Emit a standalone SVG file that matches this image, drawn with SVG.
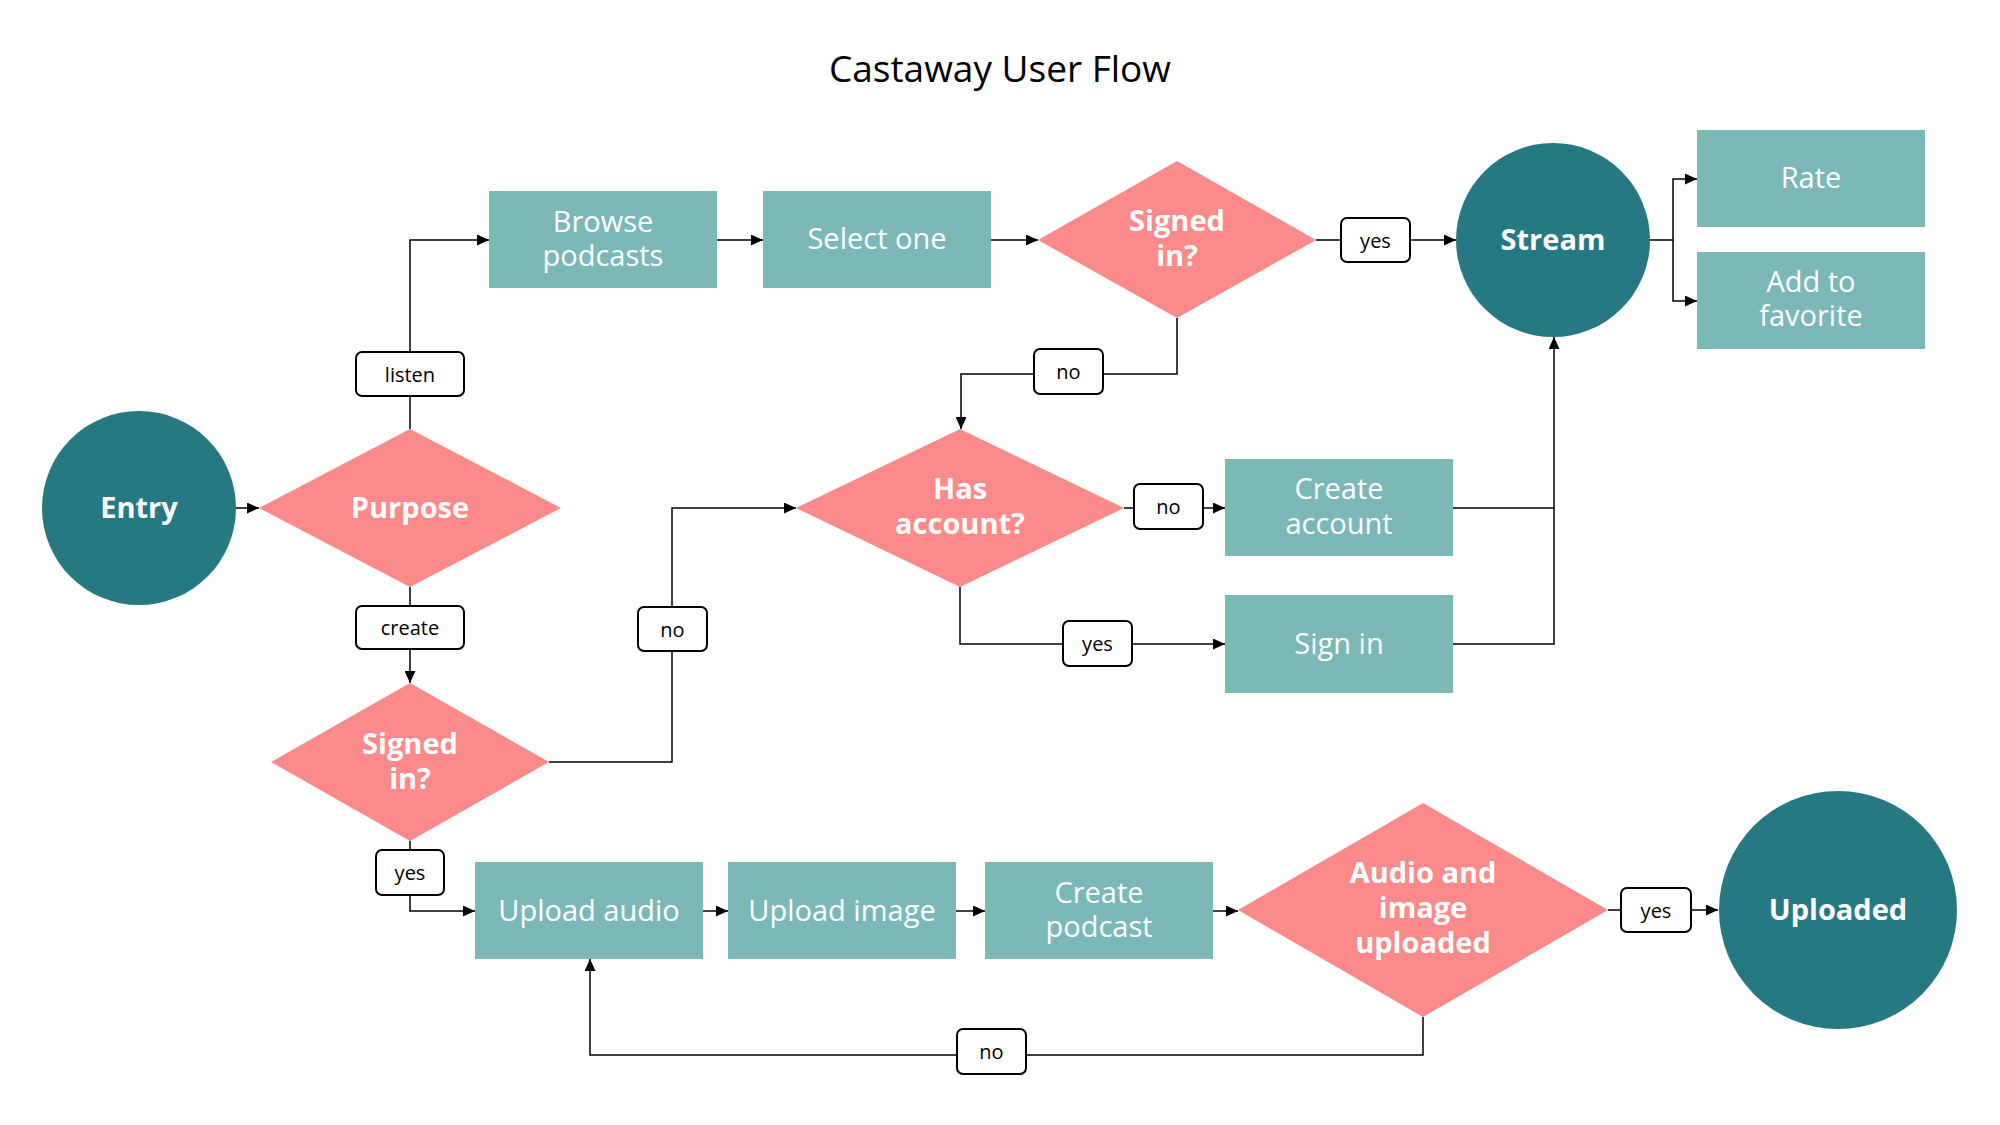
<svg xmlns="http://www.w3.org/2000/svg" width="2000" height="1125" viewBox="0 0 2000 1125">
<style>
.bg{fill:#ffffff}
.term{fill:#267982}
.proc{fill:#7cb8b6}
.dec{fill:#fc8a8a}
.tw{font-family:"Open Sans","Liberation Sans",sans-serif;font-size:29px;fill:#ffffff;text-anchor:middle}
.tb{font-family:"Open Sans","Liberation Sans",sans-serif;font-size:29px;font-weight:bold;fill:#ffffff;text-anchor:middle}
.edge{fill:none;stroke:#000000;stroke-width:1.5}
.lbl{fill:#ffffff;stroke:#000000;stroke-width:2}
.lt{font-family:"Open Sans","Liberation Sans",sans-serif;font-size:20px;fill:#000000;text-anchor:middle}
.title{font-family:"Open Sans","Liberation Sans",sans-serif;font-size:37px;fill:#000000;text-anchor:middle}
</style>
<defs>
<marker id="arr" markerUnits="userSpaceOnUse" markerWidth="12" markerHeight="11" refX="12" refY="5.5" orient="auto">
<path d="M0,0 L12,5.5 L0,11 z" fill="#000000"/>
</marker>
</defs>
<rect class="bg" x="0" y="0" width="2000" height="1125"/>
<text class="title" x="1000" y="82">Castaway User Flow</text>

<g id="connectors">
<path class="edge" d="M236,508 H259" marker-end="url(#arr)"/>
<path class="edge" d="M410,429 V240 H489" marker-end="url(#arr)"/>
<path class="edge" d="M410,587 V683" marker-end="url(#arr)"/>
<path class="edge" d="M717,240 H763" marker-end="url(#arr)"/>
<path class="edge" d="M991,240 H1038" marker-end="url(#arr)"/>
<path class="edge" d="M1316,240 H1456" marker-end="url(#arr)"/>
<path class="edge" d="M1177,318 V374 H961 V429" marker-end="url(#arr)"/>
<path class="edge" d="M1650,240 H1673 V179 H1697" marker-end="url(#arr)"/>
<path class="edge" d="M1673,240 V301 H1697" marker-end="url(#arr)"/>
<path class="edge" d="M1124,508 H1225" marker-end="url(#arr)"/>
<path class="edge" d="M960,587 V644 H1225" marker-end="url(#arr)"/>
<path class="edge" d="M1453,508 H1554 V337" marker-end="url(#arr)"/>
<path class="edge" d="M1453,644 H1554 V508"/>
<path class="edge" d="M549,762 H672 V508 H796" marker-end="url(#arr)"/>
<path class="edge" d="M410,841 V911 H475" marker-end="url(#arr)"/>
<path class="edge" d="M703,911 H728" marker-end="url(#arr)"/>
<path class="edge" d="M955,911 H985" marker-end="url(#arr)"/>
<path class="edge" d="M1212,911 H1238" marker-end="url(#arr)"/>
<path class="edge" d="M1608,910 H1718" marker-end="url(#arr)"/>
<path class="edge" d="M1423,1017 V1055 H590 V959" marker-end="url(#arr)"/>
<g id="edge-labels">
<rect class="lbl" x="356" y="352" width="108" height="44" rx="6"/><text class="lt" x="410" y="382">listen</text>
<rect class="lbl" x="356" y="606" width="108" height="43" rx="6"/><text class="lt" x="410" y="635">create</text>
<rect class="lbl" x="1341" y="218" width="69" height="44" rx="6"/><text class="lt" x="1375.5" y="248">yes</text>
<rect class="lbl" x="1034" y="349" width="69" height="45" rx="6"/><text class="lt" x="1068.5" y="379">no</text>
<rect class="lbl" x="1134" y="484" width="69" height="45" rx="6"/><text class="lt" x="1168.5" y="514">no</text>
<rect class="lbl" x="1063" y="621" width="69" height="45" rx="6"/><text class="lt" x="1097.5" y="651">yes</text>
<rect class="lbl" x="638" y="607" width="69" height="44" rx="6"/><text class="lt" x="672.5" y="637">no</text>
<rect class="lbl" x="376" y="850" width="68" height="45" rx="6"/><text class="lt" x="410" y="880">yes</text>
<rect class="lbl" x="1621" y="888" width="70" height="44" rx="6"/><text class="lt" x="1656" y="918">yes</text>
<rect class="lbl" x="957" y="1029" width="69" height="45" rx="6"/><text class="lt" x="991.5" y="1059">no</text>
</g>
</g>

<g id="entry"><circle class="term" cx="139" cy="508" r="97"/><text class="tb" x="139" y="518">Entry</text></g>
<g id="purpose"><polygon class="dec" points="259,508 410,429 561,508 410,587"/><text class="tb" x="410" y="518">Purpose</text></g>
<g id="browse-podcasts"><rect class="proc" x="489" y="191" width="228" height="97"/><text class="tw" x="603" y="232">Browse</text><text class="tw" x="603" y="266">podcasts</text></g>
<g id="select-one"><rect class="proc" x="763" y="191" width="228" height="97"/><text class="tw" x="877" y="249">Select one</text></g>
<g id="signed-in-listen"><polygon class="dec" points="1038,240 1177,161 1316,240 1177,318"/><text class="tb" x="1177" y="231">Signed</text><text class="tb" x="1177" y="266">in?</text></g>
<g id="stream"><circle class="term" cx="1553" cy="240" r="97"/><text class="tb" x="1553" y="250">Stream</text></g>
<g id="rate"><rect class="proc" x="1697" y="130" width="228" height="97"/><text class="tw" x="1811" y="188">Rate</text></g>
<g id="add-to-favorite"><rect class="proc" x="1697" y="252" width="228" height="97"/><text class="tw" x="1811" y="292">Add to</text><text class="tw" x="1811" y="326">favorite</text></g>
<g id="has-account"><polygon class="dec" points="796,508 960,429 1124,508 960,587"/><text class="tb" x="960" y="499">Has</text><text class="tb" x="960" y="534">account?</text></g>
<g id="create-account"><rect class="proc" x="1225" y="459" width="228" height="97"/><text class="tw" x="1339" y="499">Create</text><text class="tw" x="1339" y="534">account</text></g>
<g id="sign-in"><rect class="proc" x="1225" y="595" width="228" height="98"/><text class="tw" x="1339" y="654">Sign in</text></g>
<g id="signed-in-create"><polygon class="dec" points="271,762 410,683 549,762 410,841"/><text class="tb" x="410" y="754">Signed</text><text class="tb" x="410" y="789">in?</text></g>
<g id="upload-audio"><rect class="proc" x="475" y="862" width="228" height="97"/><text class="tw" x="589" y="921">Upload audio</text></g>
<g id="upload-image"><rect class="proc" x="728" y="862" width="228" height="97"/><text class="tw" x="842" y="921">Upload image</text></g>
<g id="create-podcast"><rect class="proc" x="985" y="862" width="228" height="97"/><text class="tw" x="1099" y="903">Create</text><text class="tw" x="1099" y="937">podcast</text></g>
<g id="audio-image-uploaded"><polygon class="dec" points="1238,910 1423,803 1608,910 1423,1017"/><text class="tb" x="1423" y="883">Audio and</text><text class="tb" x="1423" y="918">image</text><text class="tb" x="1423" y="953">uploaded</text></g>
<g id="uploaded"><circle class="term" cx="1838" cy="910" r="119"/><text class="tb" x="1838" y="920">Uploaded</text></g>
</svg>
